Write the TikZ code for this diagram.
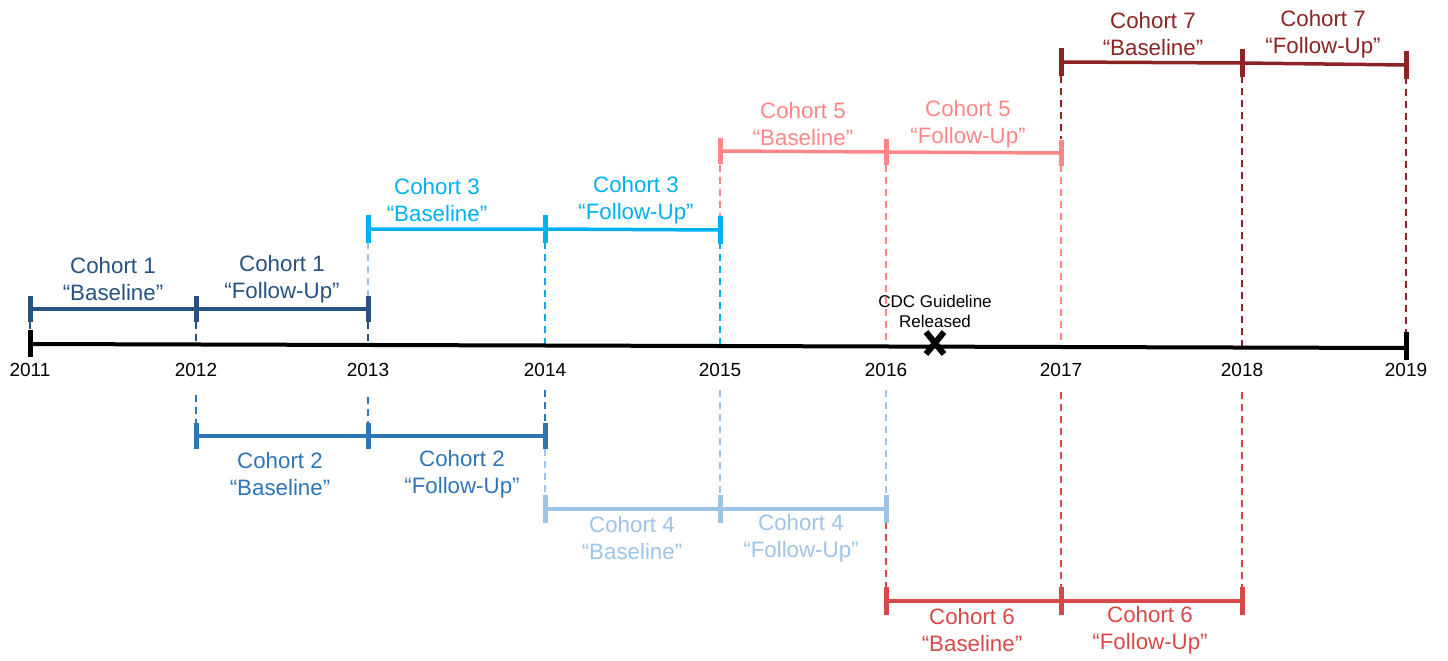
\documentclass[tikz,border=0pt]{standalone}
\usepackage{fontspec}
\setmainfont{Liberation Sans}
\definecolor{c1}{RGB}{38,82,128}
\definecolor{c2}{RGB}{46,117,182}
\definecolor{c3}{RGB}{0,176,240}
\definecolor{c4}{RGB}{157,195,230}
\definecolor{c5}{RGB}{255,134,134}
\definecolor{c6}{RGB}{216,72,72}
\definecolor{c7}{RGB}{140,36,36}
\begin{document}
\begin{tikzpicture}[x=1pt,y=-1pt,
  bar/.style={line width=3.5pt},
  tk/.style={line width=5pt},
  dsh/.style={line width=1.8pt, dash pattern=on 7pt off 5pt},
  lbl/.style={align=center, font=\fontsize{22.3}{27}\selectfont, inner sep=0pt},
  yr/.style={font=\fontsize{19}{22}\selectfont, inner sep=0pt},
  cdc/.style={align=center, font=\fontsize{17}{20}\selectfont, inner sep=0pt}]
\useasboundingbox (0,0) rectangle (1448,661);

% ---------- dashed guides ----------
% cohort 1
\draw[c1,dsh] (30,322) -- (30,334);
\draw[c1,dsh] (196,322) -- (196,344);
\draw[c1,dsh] (368,322) -- (368,344);
% cohort 3
\draw[c4,dsh] (368,242) -- (368,296);
\draw[c3,dsh] (545,242) -- (545,344);
\draw[c3,dsh] (720,242) -- (720,344);
% cohort 5
\draw[c5,dsh] (720,165) -- (720,216);
\draw[c5,dsh] (886,165) -- (886,345);
\draw[c5,dsh] (1061,165) -- (1061,346);
% cohort 7
\draw[c7,dsh] (1061,76) -- (1061,139);
\draw[c7,dsh] (1242,76) -- (1242,347);
\draw[c7,dsh] (1406,77) -- (1406,333);
% cohort 2
\draw[c2,dsh] (196,395) -- (196,423);
\draw[c2,dsh] (368,397) -- (368,423);
\draw[c2,dsh] (545,390) -- (545,423);
% cohort 4
\draw[c4,dsh] (545,449) -- (545,496);
\draw[c4,dsh] (720,390) -- (720,496);
\draw[c4,dsh] (886,390) -- (886,496);
% cohort 6
\draw[c6,dsh] (886,522) -- (886,588);
\draw[c6,dsh] (1061,392) -- (1061,588);
\draw[c6,dsh] (1242,392) -- (1242,588);

% ---------- main axis ----------
\coordinate (a0) at (30,344);
\coordinate (a8) at (1406,348);
\draw[line width=4pt] (a0) -- (a8);
\draw[line width=5pt] (30,330) -- (30,357);
\draw[line width=5pt] (1406,332) -- (1406,360);

\foreach \x/\y [count=\i] in {30/2011,196/2012,368/2013,545/2014,720/2015,886/2016,1061/2017,1242/2018,1406/2019}
  \node[yr] (y\i) at (\x,370) {\y};

% ---------- cohort bars ----------
% cohort 1
\draw[c1,bar] (30,309) coordinate (c1a) -- (196,309) coordinate (c1b) -- (368,309) coordinate (c1c);
\foreach \p in {c1a,c1b,c1c} \draw[c1,tk] ([yshift=13pt]\p) -- ([yshift=-13pt]\p);
% cohort 2
\draw[c2,bar] (196,436) coordinate (c2a) -- (368,436) coordinate (c2b) -- (545,436) coordinate (c2c);
\foreach \p in {c2a,c2b,c2c} \draw[c2,tk] ([yshift=13pt]\p) -- ([yshift=-13pt]\p);
% cohort 3
\draw[c3,bar] (368,229) coordinate (c3a) -- (545,229) coordinate (c3b) -- (720,230) coordinate (c3c);
\foreach \p in {c3a,c3b,c3c} \draw[c3,tk] ([yshift=14pt]\p) -- ([yshift=-14pt]\p);
% cohort 4
\draw[c4,bar] (545,509) coordinate (c4a) -- (720,509) coordinate (c4b) -- (886,509) coordinate (c4c);
\foreach \p in {c4a,c4b,c4c} \draw[c4,tk] ([yshift=14pt]\p) -- ([yshift=-14pt]\p);
% cohort 5
\draw[c5,bar] (720,151) coordinate (c5a) -- (886,152) coordinate (c5b) -- (1061,153) coordinate (c5c);
\foreach \p in {c5a,c5b,c5c} \draw[c5,tk] ([yshift=13pt]\p) -- ([yshift=-13pt]\p);
% cohort 6
\draw[c6,bar] (886,601) coordinate (c6a) -- (1061,601) coordinate (c6b) -- (1242,601) coordinate (c6c);
\foreach \p in {c6a,c6b,c6c} \draw[c6,tk] ([yshift=14pt]\p) -- ([yshift=-14pt]\p);
% cohort 7
\draw[c7,bar] (1061,62) coordinate (c7a) -- (1242,63) coordinate (c7b) -- (1406,65) coordinate (c7c);
\foreach \p in {c7a,c7b,c7c} \draw[c7,tk] ([yshift=14pt]\p) -- ([yshift=-14pt]\p);

% ---------- labels ----------
\node[lbl,c1] (l1b) at (113,279) {Cohort 1\\“Baseline”};
\node[lbl,c1] (l1f) at (282,279) {Cohort 1\\“Follow-Up”};
\node[lbl,c2] (l2b) at (280,474) {Cohort 2\\“Baseline”};
\node[lbl,c2] (l2f) at (462,474) {Cohort 2\\“Follow-Up”};
\node[lbl,c3] (l3b) at (437,200) {Cohort 3\\“Baseline”};
\node[lbl,c3] (l3f) at (636,200) {Cohort 3\\“Follow-Up”};
\node[lbl,c4] (l4b) at (632,538) {Cohort 4\\“Baseline”};
\node[lbl,c4] (l4f) at (801,538) {Cohort 4\\“Follow-Up”};
\node[lbl,c5] (l5b) at (803,124) {Cohort 5\\“Baseline”};
\node[lbl,c5] (l5f) at (968,124) {Cohort 5\\“Follow-Up”};
\node[lbl,c6] (l6b) at (972,630) {Cohort 6\\“Baseline”};
\node[lbl,c6] (l6f) at (1150,630) {Cohort 6\\“Follow-Up”};
\node[lbl,c7] (l7b) at (1153,34) {Cohort 7\\“Baseline”};
\node[lbl,c7] (l7f) at (1323,34) {Cohort 7\\“Follow-Up”};

% ---------- CDC marker ----------
\node[cdc] (cdc) at (935,311) {CDC Guideline\\Released};
\coordinate (xm) at (935,343);
\draw[line width=6pt] ([shift={(-9,-11)}]xm) -- ([shift={(9,11)}]xm);
\draw[line width=6pt] ([shift={(-9,11)}]xm) -- ([shift={(9,-11)}]xm);
\end{tikzpicture}
\end{document}
